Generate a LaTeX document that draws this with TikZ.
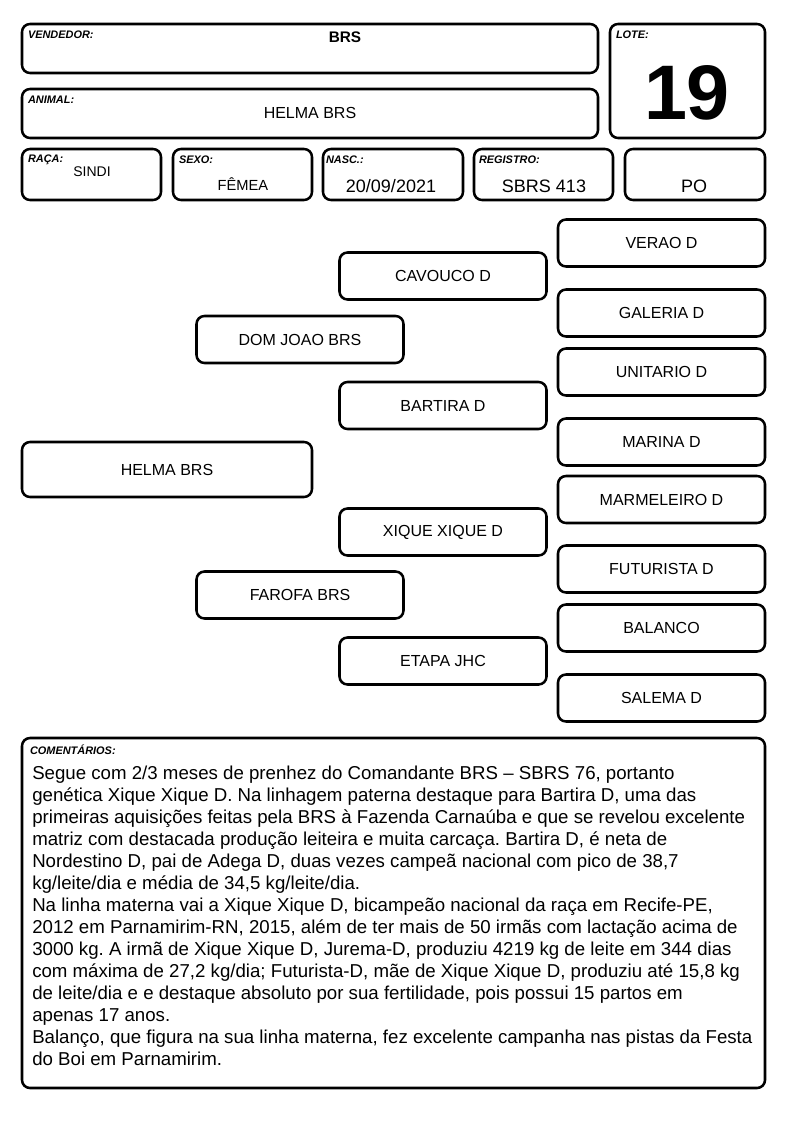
\documentclass[tikz,border=0pt]{standalone}
\usepackage{fontspec}
\setmainfont{Liberation Sans}
\usepackage{tikz}
\frenchspacing

\begin{document}
\begin{tikzpicture}[x=0.75pt, y=-0.75pt,
    box/.style={draw, line width=1.9pt, rounded corners=6pt, inner sep=0pt},
    pedbox/.style={box, minimum width=155.25pt, minimum height=35.25pt, font=\fontsize{12}{14}\selectfont},
    tag/.style={anchor=north west, inner sep=0pt, font=\fontsize{8.2}{9}\selectfont\bfseries\itshape},
    value/.style={inner sep=0pt, font=\fontsize{10.5}{12}\selectfont}]
    \useasboundingbox (0,0) rectangle (794,1123);

    % header
    \node (vend) at (310,48.5) [box, minimum width=432pt, minimum height=36.75pt] {};
    \node (anim) at (310,113.5) [box, minimum width=432pt, minimum height=36.75pt] {};
    \node (lote) at (687.5,81) [box, minimum width=116.25pt, minimum height=85.5pt] {};
    \node (raca) at (91.5,174.5) [box, minimum width=104.25pt, minimum height=38.25pt] {};
    \node (sexo) at (242.5,174.5) [box, minimum width=104.25pt, minimum height=38.25pt] {};
    \node (nasc) at (393,174.5) [box, minimum width=105pt, minimum height=38.25pt] {};
    \node (reg) at (543.5,174.5) [box, minimum width=104.25pt, minimum height=38.25pt] {};
    \node (po) at (695,174.5) [box, minimum width=105pt, minimum height=38.25pt] {};

    \node [tag] at ([shift={(7,8)}]vend.north west) {VENDEDOR:};
    \node [tag] at ([shift={(7,8)}]anim.north west) {ANIMAL:};
    \node [tag] at ([shift={(7,8)}]lote.north west) {LOTE:};
    \node [tag] at ([shift={(7,7)}]raca.north west) {RAÇA:};
    \node [tag] at ([shift={(7,8)}]sexo.north west) {SEXO:};
    \node [tag] at ([shift={(4,8)}]nasc.north west) {NASC.:};
    \node [tag] at ([shift={(6,8)}]reg.north west) {REGISTRO:};

    \node [value, font=\fontsize{11.5}{13}\selectfont\bfseries] at (345,37) {BRS};
    \node [value, font=\fontsize{12}{14}\selectfont] at (310,113) {HELMA BRS};
    \node [value, font=\fontsize{58}{60}\selectfont\bfseries] at (687,93) {19};
    \node [value] at (92,172) {SINDI};
    \node [value, font=\fontsize{11}{13}\selectfont] at (243,184) {FÊMEA};
    \node [value, font=\fontsize{13.5}{15}\selectfont] at (391,186) {20/09/2021};
    \node [value, font=\fontsize{13.5}{15}\selectfont] at (544,186) {SBRS 413};
    \node [value, font=\fontsize{13.5}{15}\selectfont] at (694,186) {PO};

    % pedigree
    \node (helma) at (167,469.5) [pedbox, minimum width=217.5pt, minimum height=41.25pt] {HELMA BRS};
    \node (domjoao) at (300,339.5) [pedbox] {DOM JOAO BRS};
    \node (farofa) at (300,595) [pedbox] {FAROFA BRS};
    \node (cavouco) at (443,276) [pedbox] {CAVOUCO D};
    \node (bartira) at (443,405.5) [pedbox] {BARTIRA D};
    \node (xique) at (443,532) [pedbox] {XIQUE XIQUE D};
    \node (etapa) at (443,661) [pedbox] {ETAPA JHC};
    \node (verao) at (661.5,243) [pedbox] {VERAO D};
    \node (galeria) at (661.5,313) [pedbox] {GALERIA D};
    \node (unitario) at (661.5,372) [pedbox] {UNITARIO D};
    \node (marina) at (661.5,442) [pedbox] {MARINA D};
    \node (marmeleiro) at (661.5,499.5) [pedbox] {MARMELEIRO D};
    \node (futurista) at (661.5,569) [pedbox] {FUTURISTA D};
    \node (balanco) at (661.5,628) [pedbox] {BALANCO};
    \node (salema) at (661.5,698) [pedbox] {SALEMA D};

    % comments
    \node (coment) at (393.5,913) [box, minimum width=557.25pt, minimum height=262.5pt] {};
    \node [tag] at ([shift={(9,8)}]coment.north west) {COMENTÁRIOS:};
    \node [anchor=north west, inner sep=0pt, align=left, font=\fontsize{14}{16.5}\selectfont]
        at (32,766) {Segue com 2/3 meses de prenhez do Comandante BRS – SBRS 76, portanto\\
        genética Xique Xique D. Na linhagem paterna destaque para Bartira D, uma das\\
        primeiras aquisições feitas pela BRS à Fazenda Carnaúba e que se revelou excelente\\
        matriz com destacada produção leiteira e muita carcaça. Bartira D, é neta de\\
        Nordestino D, pai de Adega D, duas vezes campeã nacional com pico de 38,7\\
        kg/leite/dia e média de 34,5 kg/leite/dia.\\
        Na linha materna vai a Xique Xique D, bicampeão nacional da raça em Recife-PE,\\
        2012 em Parnamirim-RN, 2015, além de ter mais de 50 irmãs com lactação acima de\\
        3000 kg. A irmã de Xique Xique D, Jurema-D, produziu 4219 kg de leite em 344 dias\\
        com máxima de 27,2 kg/dia; Futurista-D, mãe de Xique Xique D, produziu até 15,8 kg\\
        de leite/dia e e destaque absoluto por sua fertilidade, pois possui 15 partos em\\
        apenas 17 anos.\\
        Balanço, que figura na sua linha materna, fez excelente campanha nas pistas da Festa\\
        do Boi em Parnamirim.};
\end{tikzpicture}
\end{document}
